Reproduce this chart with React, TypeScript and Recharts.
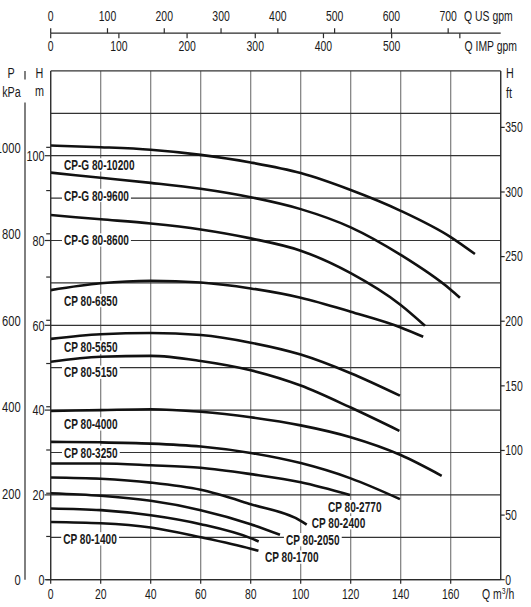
import React from 'react';
import { LineChart, Line, XAxis, YAxis, CartesianGrid, ReferenceDot, Label } from 'recharts';

// ---- axis ticks ----
const Q_TICKS = [0, 20, 40, 60, 80, 100, 120, 140, 160];
const H_TICKS = [0, 10, 20, 30, 40, 50, 60, 70, 80, 90, 100, 110, 120];
const KPA_TICKS = [0, 100, 200, 300, 400, 500, 600, 700, 800, 900, 1000];
const FT_TICKS = [0, 50, 100, 150, 200, 250, 300, 350];
const US_GPM_TICKS = [0, 100, 200, 300, 400, 500, 600, 700];
const IMP_GPM_TICKS = [0, 100, 200, 300, 400, 500, 600];

const Q_MAX = 180;
const H_MAX = 120;
const M3H_TO_USGPM = 4.4029;
const M3H_TO_IMPGPM = 3.6662;
const M_TO_KPA = 9.80665;
const M_TO_FT = 1 / 0.3048;

// flow range shared by the three flow scales
const Q_RANGE = [{ q: 0 }, { q: Q_MAX }];

// ---- pump curves (Q m3/h, H m) ----
const CPG_80_10200 = [
  { q: 0, h: 102.4 }, { q: 20, h: 102.0 }, { q: 40, h: 101.4 }, { q: 60, h: 100.2 },
  { q: 80, h: 98.4 }, { q: 100, h: 95.9 }, { q: 120, h: 91.9 }, { q: 140, h: 87.0 },
  { q: 160, h: 80.8 }, { q: 169.7, h: 76.8 },
];
const CPG_80_9600 = [
  { q: 0, h: 96.0 }, { q: 20, h: 94.8 }, { q: 40, h: 93.6 }, { q: 60, h: 92.2 },
  { q: 80, h: 90.2 }, { q: 100, h: 87.4 }, { q: 120, h: 83.1 }, { q: 140, h: 76.6 },
  { q: 160, h: 68.4 }, { q: 163.7, h: 66.5 },
];
const CPG_80_8600 = [
  { q: 0, h: 86.0 }, { q: 20, h: 85.0 }, { q: 40, h: 84.0 }, { q: 60, h: 82.6 },
  { q: 80, h: 80.5 }, { q: 100, h: 77.6 }, { q: 120, h: 72.3 }, { q: 140, h: 64.8 },
  { q: 149.7, h: 59.9 },
];
const CP_80_6850 = [
  { q: 0, h: 68.3 }, { q: 20, h: 69.9 }, { q: 40, h: 70.5 }, { q: 60, h: 70.1 },
  { q: 80, h: 68.7 }, { q: 100, h: 66.5 }, { q: 120, h: 63.2 }, { q: 140, h: 59.5 },
  { q: 149, h: 57.3 },
];
const CP_80_5650 = [
  { q: 0, h: 56.8 }, { q: 20, h: 57.9 }, { q: 40, h: 58.2 }, { q: 60, h: 57.7 },
  { q: 80, h: 55.9 }, { q: 100, h: 53.1 }, { q: 120, h: 48.7 }, { q: 139.7, h: 43.4 },
];
const CP_80_5150 = [
  { q: 0, h: 51.4 }, { q: 20, h: 52.6 }, { q: 40, h: 52.8 }, { q: 60, h: 51.6 },
  { q: 80, h: 49.4 }, { q: 100, h: 45.8 }, { q: 120, h: 40.6 }, { q: 139.5, h: 35.1 },
];
const CP_80_4000 = [
  { q: 0, h: 39.8 }, { q: 20, h: 40.0 }, { q: 40, h: 40.2 }, { q: 60, h: 39.6 },
  { q: 80, h: 38.3 }, { q: 100, h: 36.4 }, { q: 120, h: 33.6 }, { q: 140, h: 29.4 },
  { q: 156.4, h: 24.5 },
];
const CP_80_3250 = [
  { q: 0, h: 32.5 }, { q: 20, h: 32.4 }, { q: 40, h: 32.1 }, { q: 60, h: 31.4 },
  { q: 80, h: 29.9 }, { q: 100, h: 27.5 }, { q: 120, h: 23.9 }, { q: 139.7, h: 19.0 },
];
const CP_80_2770 = [
  { q: 0, h: 27.4 }, { q: 20, h: 27.4 }, { q: 40, h: 27.0 }, { q: 60, h: 26.4 },
  { q: 80, h: 24.9 }, { q: 100, h: 23.0 }, { q: 119.7, h: 20.0 },
];
const CP_80_2400 = [
  { q: 0, h: 24.1 }, { q: 20, h: 23.8 }, { q: 40, h: 22.9 }, { q: 60, h: 21.2 },
  { q: 80, h: 17.8 }, { q: 100, h: 13.9 }, { q: 102.4, h: 13.0 },
];
const CP_80_2050 = [
  { q: 0, h: 20.4 }, { q: 20, h: 19.8 }, { q: 40, h: 18.6 }, { q: 60, h: 16.4 },
  { q: 80, h: 13.1 }, { q: 91.7, h: 10.6 },
];
const CP_80_1700 = [
  { q: 0, h: 16.8 }, { q: 20, h: 16.4 }, { q: 40, h: 15.2 }, { q: 60, h: 13.1 },
  { q: 80, h: 9.8 }, { q: 83.2, h: 9.0 },
];
const CP_80_1400 = [
  { q: 0, h: 13.6 }, { q: 20, h: 13.3 }, { q: 40, h: 12.3 }, { q: 60, h: 10.0 },
  { q: 80, h: 7.3 }, { q: 83.1, h: 6.8 },
];

const SERIES = [
  { name: 'CP-G 80-10200', data: CPG_80_10200 },
  { name: 'CP-G 80-9600', data: CPG_80_9600 },
  { name: 'CP-G 80-8600', data: CPG_80_8600 },
  { name: 'CP 80-6850', data: CP_80_6850 },
  { name: 'CP 80-5650', data: CP_80_5650 },
  { name: 'CP 80-5150', data: CP_80_5150 },
  { name: 'CP 80-4000', data: CP_80_4000 },
  { name: 'CP 80-3250', data: CP_80_3250 },
  { name: 'CP 80-2770', data: CP_80_2770 },
  { name: 'CP 80-2400', data: CP_80_2400 },
  { name: 'CP 80-2050', data: CP_80_2050 },
  { name: 'CP 80-1700', data: CP_80_1700 },
  { name: 'CP 80-1400', data: CP_80_1400 },
];

// label anchors in data units (left edge, vertical centre)
const LABEL_ANCHORS = [
  { name: 'CP-G 80-10200', q: 5.3, h: 97.8 },
  { name: 'CP-G 80-9600', q: 5.3, h: 90.6 },
  { name: 'CP-G 80-8600', q: 5.3, h: 80.1 },
  { name: 'CP 80-6850', q: 5.3, h: 65.8 },
  { name: 'CP 80-5650', q: 5.3, h: 54.8 },
  { name: 'CP 80-5150', q: 5.3, h: 48.9 },
  { name: 'CP 80-4000', q: 5.3, h: 36.7 },
  { name: 'CP 80-3250', q: 5.3, h: 30.0 },
  { name: 'CP 80-1400', q: 5.0, h: 9.6 },
  { name: 'CP 80-2770', q: 110.9, h: 17.2 },
  { name: 'CP 80-2400', q: 104.4, h: 13.4 },
  { name: 'CP 80-2050', q: 94.1, h: 9.4 },
  { name: 'CP 80-1700', q: 85.7, h: 5.3 },
];

// ---- layout ----
const W = 531;
const H = 607;
const PL = 50.7;
const PR = 500.7;
const PT = 70.9;
const PB = 579.7;
const TOP_LINE = 33.2;
const KPA_LINE = 25.7;
const SX = 0.72;
const TICK_FS = 14.5;
const FONT = "'Liberation Sans', Arial, Helvetica, sans-serif";
const INK = '#1a1a1a';
const AXIS = '#2a2a2a';

const BOLD_W: Record<string, number> = { C: 0.722, P: 0.667, G: 0.778, ' ': 0.278, '-': 0.333 };
const boldWidth = (s: string, size: number) =>
  s.split('').reduce((a, c) => a + (BOLD_W[c] ?? 0.556), 0) * size * SX;

function CText({ x, y, anchor = 'start', size = TICK_FS, weight = 400, children }: any) {
  return (
    <text
      transform={`translate(${x},${y}) scale(${SX},1)`}
      textAnchor={anchor}
      fontSize={size}
      fontWeight={weight}
      fontFamily={FONT}
      fill={INK}
    >
      {children}
    </text>
  );
}

const BottomTick = (p: any) => (
  <CText x={p.x} y={598.5} anchor="middle">{p.payload.value}</CText>
);
const UsTick = (p: any) => (
  <CText x={p.x} y={21} anchor="middle">{p.payload.value}</CText>
);
const ImpTick = (p: any) => {
  const v = p.payload.value;
  return (
    <g>
      <line x1={p.x} x2={p.x} y1={TOP_LINE} y2={TOP_LINE + 5} stroke={AXIS} strokeWidth={1.2} />
      {v <= 500 ? <CText x={p.x} y={50.8} anchor="middle">{v}</CText> : null}
    </g>
  );
};
const MTick = (p: any) => {
  const v = p.payload.value;
  if (v % 20 !== 0 || v > 100) return <g />;
  return (
    <g>
      <line x1={PL - 6} x2={PL} y1={p.y} y2={p.y} stroke={AXIS} strokeWidth={1.2} />
      <CText x={PL - 6.3} y={p.y + 5.2} anchor="end" size={15}>{v}</CText>
    </g>
  );
};
const KpaTick = (p: any) => {
  const v = p.payload.value;
  if (v % 200 !== 0) return <g />;
  return <CText x={KPA_LINE - 5} y={p.y + 5.3} anchor="end" size={15.5}>{v}</CText>;
};
const FtTick = (p: any) => (
  <CText x={PR + 4.6} y={p.y + 4.8} anchor="start">{p.payload.value}</CText>
);

const LabelShape = ({ cx, cy, text }: any) => {
  const w = boldWidth(text, 14);
  return (
    <g>
      <rect x={cx - 2} y={cy - 6.8} width={w + 4} height={13.3} fill="#ffffff" />
      <CText x={cx} y={cy + 5} size={14} weight={700}>{text}</CText>
    </g>
  );
};

export default function App() {
  return (
    <div style={{ position: 'absolute', left: 0, top: 0, background: '#fff' }}>
      <LineChart width={W} height={H} data={Q_RANGE} margin={{ top: 0, right: 0, bottom: 0, left: 0 }}>
        <CartesianGrid xAxisId="q" yAxisId="m" horizontal={false} stroke="#7d7d7d" strokeWidth={1.2} />
        <CartesianGrid xAxisId="q" yAxisId="m" vertical={false} stroke="#333333" strokeWidth={1.2} />

        <XAxis
          xAxisId="q"
          dataKey="q"
          type="number"
          domain={[0, Q_MAX]}
          allowDataOverflow
          ticks={Q_TICKS}
          interval={0}
          height={H - PB}
          stroke={AXIS}
          strokeWidth={1.2}
          tickSize={4}
          tick={BottomTick}
        >
          <Label
            content={() => (
              <text
                transform={`translate(482,599) scale(${SX},1)`}
                fontSize={TICK_FS}
                fontFamily={FONT}
                fill={INK}
              >
                Q m<tspan dy={-5.5} fontSize={9.5}>3</tspan>
                <tspan dy={5.5}>/h</tspan>
              </text>
            )}
          />
        </XAxis>
        <XAxis
          xAxisId="imp"
          orientation="top"
          type="number"
          dataKey={(d: any) => d.q * M3H_TO_IMPGPM}
          domain={[0, Q_MAX * M3H_TO_IMPGPM]}
          allowDataOverflow
          ticks={IMP_GPM_TICKS}
          interval={0}
          height={PT - TOP_LINE}
          axisLine={false}
          tickLine={false}
          tick={ImpTick}
        >
          <Label content={() => <CText x={464.5} y={50.8}>Q IMP gpm</CText>} />
        </XAxis>
        <XAxis
          xAxisId="us"
          orientation="top"
          type="number"
          dataKey={(d: any) => d.q * M3H_TO_USGPM}
          domain={[0, Q_MAX * M3H_TO_USGPM]}
          allowDataOverflow
          ticks={US_GPM_TICKS}
          interval={0}
          height={TOP_LINE}
          stroke={AXIS}
          strokeWidth={1.2}
          tickSize={5}
          tick={UsTick}
        >
          <Label content={() => <CText x={464} y={21}>Q US gpm</CText>} />
        </XAxis>

        <YAxis
          yAxisId="m"
          type="number"
          domain={[0, H_MAX]}
          allowDataOverflow
          ticks={H_TICKS}
          interval={0}
          width={PL - KPA_LINE}
          stroke={AXIS}
          strokeWidth={1.2}
          tickLine={false}
          tick={MTick}
        >
          <Label
            content={() => (
              <g>
                <CText x={39.5} y={78.3} anchor="middle" size={15}>H</CText>
                <CText x={39.5} y={95.5} anchor="middle" size={15}>m</CText>
              </g>
            )}
          />
        </YAxis>
        <YAxis
          yAxisId="kpa"
          type="number"
          domain={[0, H_MAX * M_TO_KPA]}
          allowDataOverflow
          ticks={KPA_TICKS}
          interval={0}
          width={KPA_LINE}
          stroke={AXIS}
          strokeWidth={1.2}
          tickSize={4.5}
          tick={KpaTick}
        >
          <Label
            content={() => (
              <g>
                <rect x={KPA_LINE - 3} y={79.5} width={6} height={23} fill="#ffffff" />
                <CText x={11} y={78.3} anchor="middle" size={15}>P</CText>
                <CText x={11.5} y={96.5} anchor="middle" size={15}>kPa</CText>
              </g>
            )}
          />
        </YAxis>
        <YAxis
          yAxisId="ft"
          orientation="right"
          type="number"
          domain={[0, H_MAX * M_TO_FT]}
          allowDataOverflow
          ticks={FT_TICKS}
          interval={0}
          width={W - PR}
          stroke={AXIS}
          strokeWidth={1.2}
          tickSize={4}
          tick={FtTick}
        >
          <Label
            content={() => (
              <g>
                <CText x={510} y={77.8} anchor="middle" size={15}>H</CText>
                <CText x={509} y={97.5} anchor="middle" size={15}>ft</CText>
              </g>
            )}
          />
        </YAxis>

        {LABEL_ANCHORS.map((l) => (
          <ReferenceDot
            key={'lbl-' + l.name}
            xAxisId="q"
            yAxisId="m"
            x={l.q}
            y={l.h}
            r={0}
            ifOverflow="visible"
            shape={(p: any) => <LabelShape cx={p.cx} cy={p.cy} text={l.name} />}
          />
        ))}

        {SERIES.map((s) => (
          <Line
            key={s.name}
            name={s.name}
            xAxisId="q"
            yAxisId="m"
            data={s.data}
            dataKey="h"
            type="monotone"
            stroke="#111111"
            strokeWidth={2.6}
            dot={false}
            activeDot={false}
            isAnimationActive={false}
          />
        ))}
      </LineChart>
    </div>
  );
}
